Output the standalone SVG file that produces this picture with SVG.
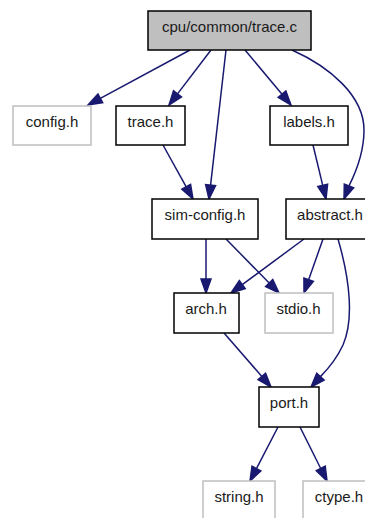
<svg xmlns="http://www.w3.org/2000/svg" width="365" height="518" viewBox="0 0 365 518">
<style>
.n rect{fill:#ffffff;stroke:#000000;stroke-width:1.5}
.g rect{fill:#ffffff;stroke:#bfbfbf;stroke-width:1.5}
.r rect{fill:#bfbfbf;stroke:#000000;stroke-width:1.5}
text{font-family:"Liberation Sans",Helvetica,Arial,sans-serif;font-size:15px;fill:#1a1a1a;text-anchor:middle}
#edges path{fill:none;stroke:#191970;stroke-width:1.5}
#edges polygon{fill:#191970;stroke:#191970;stroke-width:1.5}
</style>
<rect width="365" height="518" fill="#ffffff"/>
<g id="edges">
<path d="M190,50 L100.32,98.36"/><polygon points="97.95,93.96 88,105 102.69,102.76"/>
<path d="M211,50 L177.5,93.87"/><polygon points="173.53,90.84 169,105 181.48,96.91"/>
<path d="M226,50 L210.59,185.09"/><polygon points="205.62,184.52 209,199 215.56,185.66"/>
<path d="M245,50 L282.02,94.26"/><polygon points="278.18,97.47 291,105 285.86,91.05"/>
<path d="M292,50 C330,67 364,96 364,130 C364,152 357,170 348.98,185.92"/><polygon points="344.31,184.14 344,199 353.65,187.7"/>
<path d="M163,145 L186.2,186.77"/><polygon points="181.83,189.2 193,199 190.57,184.34"/>
<path d="M313,145 L322.72,185.38"/><polygon points="317.85,186.55 326,199 327.59,184.21"/>
<path d="M206,239 L206,279"/><polygon points="201,279 206,293 211,279"/>
<path d="M226,239 L269.19,283.01"/><polygon points="265.62,286.51 279,293 272.76,279.51"/>
<path d="M304,239 L242.26,284.67"/><polygon points="239.29,280.65 231,293 245.23,288.69"/>
<path d="M323,239 L308.65,279.8"/><polygon points="303.93,278.14 304,293 313.37,281.46"/>
<path d="M338,239 C350,280 354,320 343,345 C336,360 328,369 320.42,376.64"/><polygon points="316.72,373.27 311,387 324.12,380.01"/>
<path d="M224,333 L261.81,376.44"/><polygon points="258.04,379.72 271,387 265.58,373.16"/>
<path d="M278,427 L256.44,468.57"/><polygon points="252,466.27 250,481 260.88,470.87"/>
<path d="M300,427 L320.74,468.48"/><polygon points="316.27,470.72 327,481 325.21,466.24"/>
</g>
<g id="node_root" class="r"><rect x="148" y="11" width="163" height="39"/><text x="229.5" y="31.5">cpu/common/trace.c</text></g>
<g id="node_config" class="g"><rect x="13" y="106" width="78" height="39"/><text x="52" y="126.5">config.h</text></g>
<g id="node_trace" class="n"><rect x="116" y="106" width="69" height="39"/><text x="150.5" y="126.5">trace.h</text></g>
<g id="node_labels" class="n"><rect x="270" y="106" width="78" height="39"/><text x="309" y="126.5">labels.h</text></g>
<g id="node_simconfig" class="n"><rect x="152" y="199" width="106" height="40"/><text x="205" y="220">sim-config.h</text></g>
<g id="node_abstract" class="n"><rect x="286" y="199" width="88" height="40"/><text x="330" y="220">abstract.h</text></g>
<g id="node_arch" class="n"><rect x="174" y="293" width="65" height="40"/><text x="206" y="314">arch.h</text></g>
<g id="node_stdio" class="g"><rect x="265" y="293" width="68" height="40"/><text x="298.5" y="314">stdio.h</text></g>
<g id="node_port" class="n"><rect x="259" y="387" width="60" height="40"/><text x="289" y="408">port.h</text></g>
<g id="node_string" class="g"><rect x="203" y="481" width="72" height="40"/><text x="239" y="502">string.h</text></g>
<g id="node_ctype" class="g"><rect x="303" y="481" width="72" height="40"/><text x="339" y="502">ctype.h</text></g>
</svg>
